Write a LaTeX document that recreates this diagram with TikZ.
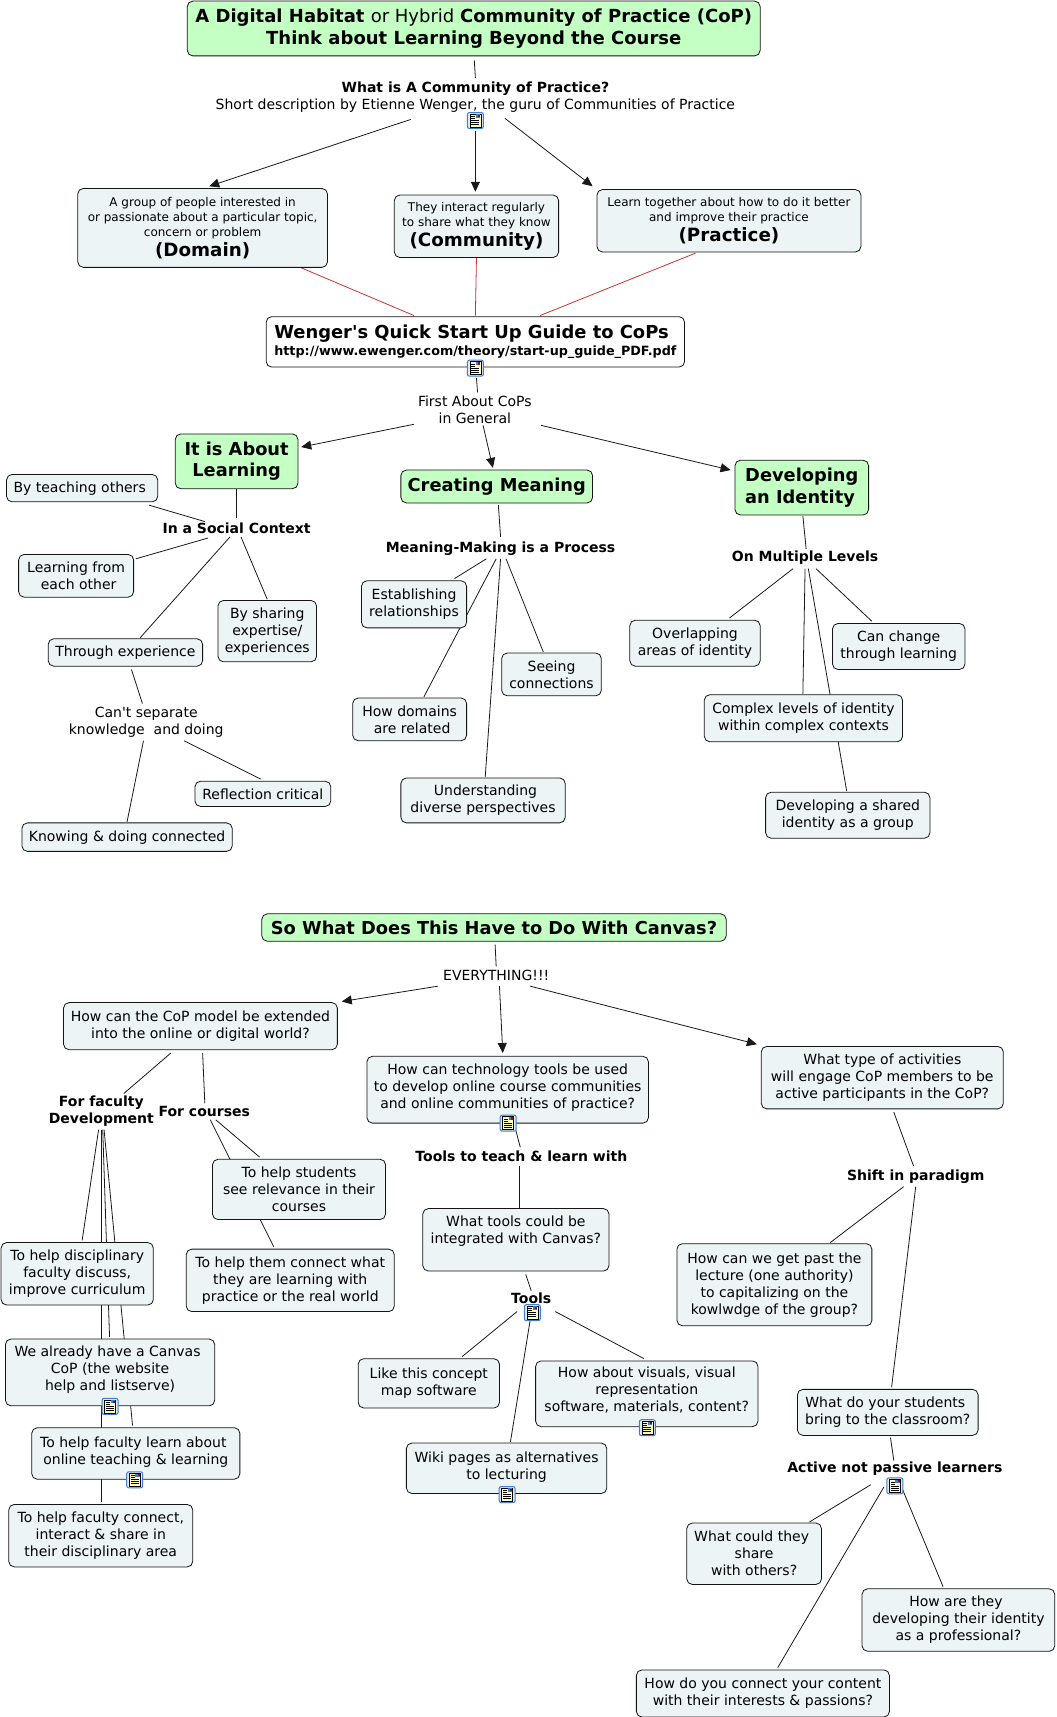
\documentclass[tikz,border=0pt]{standalone}
\usepackage{fontspec}
\setmainfont[Ligatures=TeXOff]{DejaVu Sans}
\usetikzlibrary{calc,backgrounds,arrows.meta}
\definecolor{boxfill}{HTML}{EDF4F6}
\definecolor{greenfill}{HTML}{C4FFC4}
\definecolor{boxline}{HTML}{141414}
\definecolor{redline}{HTML}{CC3333}
\definecolor{iconblue}{HTML}{3F7FCF}
\definecolor{iconfill}{HTML}{DCE9F8}
\definecolor{iconpaper}{HTML}{FFFFC0}
\newcommand\fnorm{\fontsize{14}{17}\selectfont}
\newcommand\fsmall{\fontsize{12}{15}\selectfont}
\newcommand\ftitle{\fontsize{18}{21.5}\bfseries\selectfont}
\newcommand\fbig{\fontsize{17.8}{21.5}\bfseries\selectfont}
\newcommand\flarge{\fontsize{18.3}{22}\bfseries\selectfont}
\newcommand\furl{\fontsize{12.75}{15}\bfseries\selectfont}
\newcommand\tsp{\hspace*{5pt}}
\newcommand\up[1]{\\[#1pt]\mbox{}}
\tikzset{
  x=1.0953pt, y=-1.0957pt,
  boxbase/.style={draw=boxline, line width=0.8pt, rounded corners=5.5pt, inner sep=0pt, align=center, font=\fnorm},
  plainbox/.style={boxbase, fill=boxfill},
  greenbox/.style={boxbase, fill=greenfill, font=\fbig},
  whitebox/.style={boxbase, fill=white},
  lab/.style={inner sep=0pt, align=center, font=\fnorm},
  blab/.style={lab, font=\fnorm\bfseries},
  link/.style={draw=black!90, line width=0.8pt},
  arrowlink/.style={link, -{Triangle[length=10pt,width=9pt]}},
  redlink/.style={draw=redline, line width=0.8pt},
  iconbox/.style={draw=iconblue, line width=1pt, fill=iconfill, rounded corners=2pt, minimum width=16pt, minimum height=16pt, inner sep=0pt}
}
\newcommand\bx[7][plainbox]{%
  \pgfmathsetmacro\bw{(#5-#3)*1.0953}%
  \pgfmathsetmacro\bh{(#6-#4)*1.0957}%
  \node[#1, minimum width=\bw pt, minimum height=\bh pt] (#2) at ({(#3+#5)/2},{(#4+#6)/2}) {#7};}
\newcommand\lnk[7][link]{\draw[#1] ($(#2)+(#3,#4)$) -- ($(#5)+(#6,#7)$);}
\newcommand\docicon[3]{%
  \node[iconbox] (#1) at (#2,#3) {};
  \begin{scope}[shift={(#1.center)}, x=1pt, y=1pt]
    \draw[black, fill=iconpaper, line width=0.5pt] (-5.5,-6.5) rectangle (5.5,6.5);
    \fill[iconblue] (0.5,3) rectangle (5,6.2);
    \fill[red!70!black] (3,3.5) rectangle (5,5.8);
    \foreach \yy in {4,2,0,-2,-4}{\draw[black, line width=0.6pt] (-4,\yy) -- (\ifnum\yy>1 0\else 4\fi,\yy);}
  \end{scope}}
\begin{document}
\begin{tikzpicture}
\useasboundingbox (0,0) rectangle (965,1567);

\bx[greenbox]{title}{171}{1}{694}{51}{\ftitle A Digital Habitat \mdseries or Hybrid \bfseries Community of Practice (CoP)\\\ftitle Think about Learning Beyond the Course}
\node[lab] (whatis) at (434,89) {\textbf{What is A Community of Practice?}\\Short description by Etienne Wenger, the guru of Communities of Practice};
\bx{domain}{71}{172}{299}{244}{\fsmall A group of people interested in\\[-2pt]\fsmall or passionate about a particular topic,\\[-2pt]\fsmall concern or problem\\[3pt]\flarge (Domain)}
\bx{community}{360}{178}{510}{235}{\fsmall They interact regularly\\[-2pt]\fsmall to share what they know\\[3pt]\flarge (Community)}
\bx{practice}{545}{173}{786}{230}{\fsmall Learn together about how to do it better\\[-2pt]\fsmall and improve their practice\\[3pt]\flarge (Practice)}
\bx[whitebox, align=left]{wenger}{243}{289}{625}{335}{\fontsize{17.9}{22}\bfseries\selectfont Wenger's Quick Start Up Guide to CoPs\\\furl http://www.ewenger.com/theory/start-up\_guide\_PDF.pdf}
\node[lab] (first) at (433.5,374.2) {First About CoPs\\in General};
\bx[greenbox]{abl}{160}{396}{272}{446}{It is About\\Learning}
\bx[greenbox]{creating}{366}{429}{541}{459}{Creating Meaning}
\bx[greenbox, align=left]{identity}{671}{420}{793}{470}{Developing\\an Identity}
\bx{teaching}{6}{433}{144}{458}{By teaching others\tsp}
\node[blab] (social) at (216,482) {In a Social Context};
\bx{lfrom}{17}{506}{122}{545}{Learning from\\\tsp each other}
\bx{through}{44}{583}{185}{608}{Through experience}
\bx{sharing}{199}{548}{289}{604}{By sharing\\expertise/\\experiences}
\node[lab] (cant) at (133.5,659) {Can't separate\\knowledge\ \ and doing};
\bx{reflect}{178}{713}{302}{736}{Reflection critical}
\bx{knowing}{20}{751}{212}{777}{Knowing \& doing connected}
\node[blab] (mm) at (457,500.5) {Meaning-Making is a Process};
\bx{est}{330}{530}{426}{573}{Establishing\\relationships}
\bx{dom}{322}{637}{426}{676}{How domains\\\tsp are related}
\bx{seeing}{458}{596}{549}{635}{Seeing\\connections}
\bx{under}{366}{710}{516}{751}{\tsp Understanding\\diverse perspectives}
\node[blab] (multi) at (735,509) {On Multiple Levels};
\bx{overlap}{575}{566}{694}{608}{Overlapping\\areas of identity}
\bx{change}{760}{569}{881}{611}{Can change\\through learning}
\bx{complex}{643}{634}{824}{677}{Complex levels of identity\\within complex contexts}
\bx{shared}{699}{723}{849}{765}{Developing a shared\\identity as a group}
\bx[greenbox]{canvas}{239}{834}{663}{859}{So What Does This Have to Do With Canvas?}
\node[lab] (every) at (453,890) {EVERYTHING!!!};
\bx{how}{58}{915}{308}{958}{How can the CoP model be extended\\into the online or digital world?}
\bx{tech}{335}{964}{592}{1025}{How can technology tools be used\\to develop online course communities\\and online communities of practice?\up{-9.2}}
\bx{activ}{695}{955}{916}{1012}{What type of activities\\will engage CoP members to be\\active participants in the CoP?}
\node[blab] (faculty) at (92.5,1014) {For faculty\\Development};
\node[blab] (courses) at (186.5,1014) {For courses};
\bx{stud}{194}{1058}{352}{1113}{To help students\\see relevance in their\tsp\\courses}
\bx{cwhat}{170}{1140}{360}{1197}{To help them connect what\\they are learning with\\practice or the real world}
\bx{disc}{1}{1134}{140}{1191}{To help disciplinary\\faculty discuss,\\improve curriculum}
\bx{already}{5}{1222}{196}{1283}{We already have a Canvas\tsp\\CoP (the website\tsp\\help and listserve)\up{-9}}
\bx{flearn}{29}{1303}{219}{1350}{To help faculty learn about\tsp\\online teaching \& learning\up{-11.4}}
\bx{conn}{8}{1373}{176}{1430}{To help faculty connect,\\interact \& share in\tsp\\their disciplinary area}
\node[blab] (teach) at (476,1055) {Tools to teach \& learn with};
\bx{wtools}{386}{1103}{556}{1160}{What tools could be\\integrated with Canvas?\up{4}}
\node[blab] (tools) at (485,1185) {Tools};
\bx{like}{327}{1240}{456}{1285}{Like this concept\\map software}
\bx{vis}{489}{1242}{692}{1302}{How about visuals, visual\\representation\\software, materials, content?\up{-8}}
\bx{wiki}{371}{1317}{554}{1363}{Wiki pages as alternatives\\to lecturing\up{-11.4}}
\node[blab] (shift) at (836,1074) {Shift in paradigm};
\bx{past}{618}{1135}{796}{1210}{How can we get past the\\lecture (one authority)\\to capitalizing on the\\kowlwdge of the group?}
\bx{bring}{728}{1268}{893}{1310}{What do your students\tsp\\bring to the classroom?}
\node[blab] (active) at (817,1340) {Active not passive learners};
\bx{share}{627}{1390}{750}{1446}{What could they\tsp\\share\tsp\\with others?}
\bx{prof}{787}{1450}{963}{1507}{How are they\tsp\\developing their identity\tsp\\as a professional?}
\bx{yc}{581}{1524}{812}{1567}{How do you connect your content\\with their interests \& passions?}

\docicon{iconA}{434}{110}
\docicon{iconB}{434}{336}
\docicon{iconC}{100.5}{1283.5}
\docicon{iconD}{123}{1350.5}
\docicon{iconE}{464}{1025}
\docicon{iconF}{486}{1198}
\docicon{iconG}{591}{1303}
\docicon{iconH}{463}{1364}
\docicon{iconI}{817}{1356}

\begin{pgfonlayer}{background}
\fill[white] (0,0) rectangle (965,1567);
\lnk{title}{0.5}{29}{whatis}{0}{-18}
\lnk[arrowlink]{whatis}{-59}{20}{domain}{6}{-38}
\lnk[arrowlink]{iconA}{0}{10}{community}{-1}{-31.5}
\lnk[arrowlink]{whatis}{27}{19}{practice}{-124.5}{-31.5}
\lnk[redlink]{domain}{89}{36}{wenger}{-56}{-24}
\lnk[redlink]{community}{0}{28.5}{wenger}{0}{-24}
\lnk[redlink]{practice}{-30.5}{29.5}{wenger}{59}{-24}
\lnk{iconB}{1}{9}{first}{2.5}{-16}
\lnk[arrowlink]{first}{-55.5}{13}{abl}{59}{-13}
\lnk[arrowlink]{first}{7.5}{14}{creating}{-3.5}{-17}
\lnk[arrowlink]{first}{60.5}{14}{identity}{-65}{-16}
\lnk{abl}{0}{25}{social}{0}{-9}
\lnk{social}{-29}{-6}{teaching}{61}{15.5}
\lnk{social}{-26}{9}{lfrom}{54.5}{-15.5}
\lnk{social}{-6}{8}{through}{13.5}{-13.5}
\lnk{social}{4}{8}{sharing}{0}{-29}
\lnk{through}{5.5}{15.5}{cant}{-3.5}{-17}
\lnk{cant}{34.5}{17}{reflect}{-2}{-13.5}
\lnk{cant}{-2.5}{17}{knowing}{0}{-14}
\lnk{creating}{1.5}{17}{mm}{0}{-10.5}
\lnk{mm}{-13}{9.5}{est}{37}{-23.5}
\lnk{mm}{-4}{9.5}{dom}{13}{-20.5}
\lnk{mm}{5}{9.5}{seeing}{-7.5}{-20.5}
\lnk{mm}{0}{9.5}{under}{2}{-21.5}
\lnk{identity}{1}{26}{multi}{1}{-8}
\lnk{multi}{-11}{10}{overlap}{31.5}{-23}
\lnk{multi}{10}{10}{change}{-24.5}{-23}
\lnk{multi}{0}{10}{complex}{-0.5}{-22.5}
\lnk{multi}{3}{10}{shared}{-1}{-22}
\lnk{canvas}{1}{15.5}{every}{0}{-8}
\lnk[arrowlink]{every}{-53}{10}{how}{129}{-22.5}
\lnk[arrowlink]{every}{3}{10}{tech}{-4.5}{-33.5}
\lnk[arrowlink]{every}{31}{10}{activ}{-114.5}{-30.5}
\lnk{how}{-27}{24.5}{faculty}{20.5}{-16}
\lnk{how}{2}{24.5}{courses}{0.5}{-7}
\lnk{courses}{5.5}{8}{cwhat}{-15}{-30.5}
\lnk{courses}{10.5}{8}{stud}{-36}{-29.5}
\lnk{faculty}{-2.5}{17}{disc}{4.5}{-30.5}
\lnk{faculty}{0}{17}{conn}{0.5}{-30.5}
\lnk{faculty}{1.3}{17}{already}{-0.5}{-32.5}
\lnk{faculty}{2.5}{17}{flearn}{-3}{-25.5}
\lnk{tech}{6.5}{33.5}{teach}{-1}{-8}
\lnk{teach}{-2}{9}{wtools}{3}{-29.5}
\lnk{wtools}{9}{31.5}{tools}{0}{-7}
\lnk{tools}{-13}{12}{like}{30.5}{-24.5}
\lnk{tools}{22}{12}{vis}{-2.5}{-32}
\lnk{tools}{-1}{20}{wiki}{3.5}{-24}
\lnk{activ}{10.5}{31.5}{shift}{-2}{-10}
\lnk{shift}{-11}{9}{past}{51}{-38.5}
\lnk{shift}{0}{9}{bring}{3.5}{-23}
\lnk{bring}{2.5}{23}{active}{-1}{-7}
\lnk{active}{-22}{15}{share}{50.5}{-29}
\lnk{active}{6}{17}{prof}{-14}{-30.5}
\lnk{active}{-10}{17}{yc}{13.5}{-23.5}
\end{pgfonlayer}
\end{tikzpicture}
\end{document}
